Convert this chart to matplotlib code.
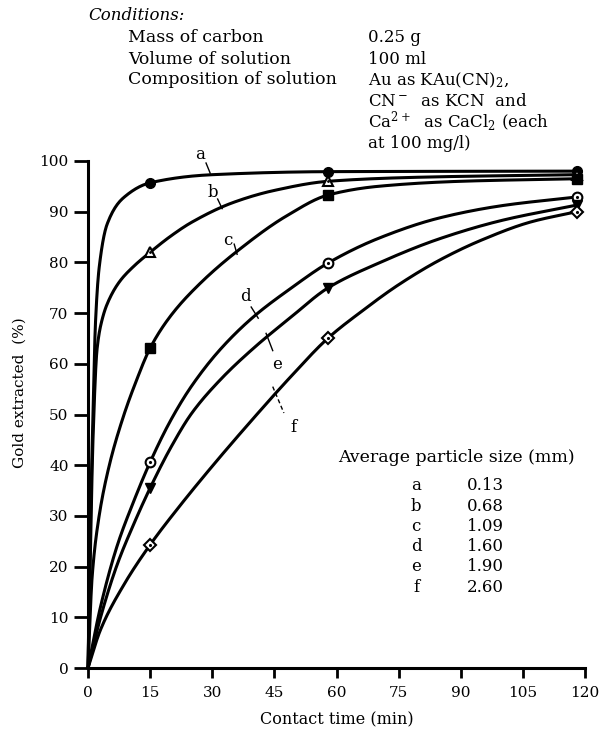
import numpy as np
import matplotlib
matplotlib.use("Agg")
import matplotlib.pyplot as plt

plt.rcParams['font.family'] = ['DejaVu Serif']
plt.rcParams['mathtext.fontset'] = 'dejavuserif'

# curves (contact time in min, gold extracted in %)
t_a = [0, 0.5, 1.2, 1.8, 2.7, 4.6, 8.5, 15, 30, 58, 118]
y_a = [0, 25, 50, 68, 79, 87.5, 92.7, 95.7, 97.3, 97.9, 98.0]
t_b = [0, 0.5, 1.2, 2.2, 3.5, 5, 7.7, 11, 15, 20, 25, 35, 45, 58, 80, 118]
y_b = [0, 20, 45, 63, 69, 72.5, 76.3, 79.2, 82, 85.2, 87.9, 91.8, 94.2, 96, 96.8, 97.3]
t_c = [0, 1, 2.5, 5, 8.5, 11.5, 15, 20, 27, 36, 48, 58, 70, 90, 118]
y_c = [0, 18, 29, 39.5, 49.5, 56.3, 63.1, 69.5, 75.8, 82.2, 89.2, 93.3, 95.0, 96.0, 96.5]
t_d = [0, 3, 7, 11, 15, 20, 25, 32, 40, 49, 58, 70, 85, 100, 118]
y_d = [0, 12, 24, 32.8, 40.6, 48.9, 55.6, 62.9, 69.3, 74.9, 79.9, 84.7, 88.8, 91.2, 92.9]
t_e = [0, 3, 7, 11, 15, 20, 25, 32, 40, 49, 58, 70, 85, 100, 118]
y_e = [0, 9.9, 20.3, 28.3, 35.5, 43.5, 50.2, 56.9, 63.1, 69.2, 75.0, 79.8, 84.7, 88.3, 91.3]
t_f = [0, 3, 8.5, 15, 22, 30, 40, 49, 58, 66, 75, 85, 95, 107, 118]
y_f = [0, 7.5, 16.2, 24.3, 31.8, 39.8, 49.3, 57.5, 65.1, 70.3, 75.6, 80.5, 84.4, 88.0, 90.0]

# measured points (markers)
pt_t = [15, 58, 118]
pt_a = [95.7, 97.9, 98.0]
pt_b = [82.0, 96.0, 97.3]
pt_c = [63.1, 93.3, 96.5]
pt_d = [40.6, 79.9, 92.9]
pt_e = [35.5, 75.0, 91.3]
pt_f = [24.3, 65.1, 90.0]

sizes_lbl = ['a', 'b', 'c', 'd', 'e', 'f']
sizes_mm = ['0.13', '0.68', '1.09', '1.60', '1.90', '2.60']


def smooth(x, y, n=400):
    # monotone cubic through the read points, only to draw a smooth pen line
    x = np.asarray(x, float)
    y = np.asarray(y, float)
    h = np.diff(x)
    d = np.diff(y) / h
    m = np.zeros_like(y)
    m[0], m[-1] = d[0], d[-1]
    for k in range(1, len(x) - 1):
        if d[k-1] * d[k] > 0:
            w1 = 2*h[k] + h[k-1]
            w2 = h[k] + 2*h[k-1]
            m[k] = (w1 + w2) / (w1/d[k-1] + w2/d[k])
    xs = np.linspace(x[0], x[-1], n)
    xs = np.unique(np.concatenate([xs, x, np.linspace(x[0], x[min(4, len(x)-1)], 200)]))
    i = np.clip(np.searchsorted(x, xs) - 1, 0, len(h) - 1)
    s = (xs - x[i]) / h[i]
    h00 = 2*s**3 - 3*s**2 + 1
    h10 = s**3 - 2*s**2 + s
    h01 = -2*s**3 + 3*s**2
    h11 = s**3 - s**2
    ys = h00*y[i] + h10*h[i]*m[i] + h01*y[i+1] + h11*h[i]*m[i+1]
    return xs, ys


fig = plt.figure(figsize=(6.08, 7.34), dpi=100)
ax = fig.add_axes([88/608, 1-668/734, (585-88)/608, (668-161)/734])

lw = 2.2
for t, y in [(t_a, y_a), (t_b, y_b), (t_c, y_c), (t_d, y_d), (t_e, y_e), (t_f, y_f)]:
    xs, ys = smooth(t, y)
    ax.plot(xs, ys, color='black', lw=lw, solid_capstyle='round', solid_joinstyle='round', clip_on=False)

ms = 7
ax.plot(pt_t, pt_a, 'o', color='black', ms=ms, clip_on=False, zorder=5)
ax.plot(pt_t, pt_b, '^', mfc='white', mec='black', mew=1.5, ms=ms, clip_on=False, zorder=5)
ax.plot(pt_t, pt_b, '.', color='black', ms=2, clip_on=False, zorder=6)
ax.plot(pt_t, pt_c, 's', color='black', ms=6.5, clip_on=False, zorder=5)
ax.plot(pt_t, pt_d, 'o', mfc='white', mec='black', mew=1.5, ms=ms, clip_on=False, zorder=5)
ax.plot(pt_t, pt_d, '.', color='black', ms=2.5, clip_on=False, zorder=6)
ax.plot(pt_t, pt_e, 'v', color='black', ms=ms, clip_on=False, zorder=5)
ax.plot(pt_t, pt_f, 'D', mfc='white', mec='black', mew=1.5, ms=6.5, clip_on=False, zorder=5)
ax.plot(pt_t, pt_f, '.', color='black', ms=2.5, clip_on=False, zorder=6)

ax.set_xlim(0, 120)
ax.set_ylim(0, 100)
ax.set_xticks(np.arange(0, 121, 15))
ax.set_yticks(np.arange(0, 101, 10))
for s in ['top', 'right']:
    ax.spines[s].set_visible(False)
for s in ['left', 'bottom']:
    ax.spines[s].set_linewidth(2.2)
ax.tick_params(axis='both', direction='out', width=2, labelsize=11)
ax.tick_params(axis='y', length=10, pad=4)
ax.tick_params(axis='x', length=7, pad=6)
ax.set_xlabel('Contact time (min)', fontsize=11.5, labelpad=8)
fig.text(20/608, 1-393/734, 'Gold extracted  (%)', fontsize=11, rotation=90,
         ha='center', va='center')

# curve labels with leader lines (data coords)
lab = dict(fontsize=12, ha='center', va='center')
ax.text(27.1, 101.2, 'a', clip_on=False, **lab)
ax.plot([28.5, 29.5], [99.6, 97.6], color='black', lw=1, clip_on=False)
ax.text(30.2, 93.8, 'b', **lab)
ax.plot([31.3, 32.4], [92.5, 90.6], color='black', lw=1)
ax.text(33.8, 84.3, 'c', **lab)
ax.plot([35.3, 36.0], [83.6, 81.6], color='black', lw=1)
ax.text(38.0, 73.3, 'd', **lab)
ax.plot([39.4, 41.1], [71.2, 69.0], color='black', lw=1)
ax.text(45.7, 59.8, 'e', **lab)
ax.plot([43.0, 44.6], [66.0, 62.6], color='black', lw=1)
ax.text(49.5, 47.5, 'f', **lab)
ax.plot([44.6, 47.3], [55.5, 50.3], color='black', lw=1, ls=(0, (3, 2)))

# particle size table
fig.text(338/608, 1-457/734, 'Average particle size (mm)', fontsize=12.5, ha='left', va='center')
for i, (l, v) in enumerate(zip(sizes_lbl, sizes_mm)):
    yy = 1-(486+20.2*i)/734
    fig.text(416/608, yy, l, fontsize=12, ha='center', va='center')
    fig.text(467/608, yy, v, fontsize=12, ha='left', va='center')

# conditions block
fig.text(88/608, 1-16/734, 'Conditions:', fontsize=12, style='italic', ha='left', va='center')
cond_left = ['Mass of carbon', 'Volume of solution', 'Composition of solution', '', '', '']
cond_right = ['0.25 g', '100 ml', 'Au as KAu(CN)$_2$,', 'CN$^-$  as KCN  and',
              'Ca$^{2+}$  as CaCl$_2$ (each', 'at 100 mg/l)']
for i, (l, r) in enumerate(zip(cond_left, cond_right)):
    yy = 1-(38+21*i)/734
    fig.text(128/608, yy, l, fontsize=12.5, ha='left', va='center')
    fig.text(368/608, yy, r, fontsize=12, ha='left', va='center')

fig.savefig('out.png', dpi=100)
